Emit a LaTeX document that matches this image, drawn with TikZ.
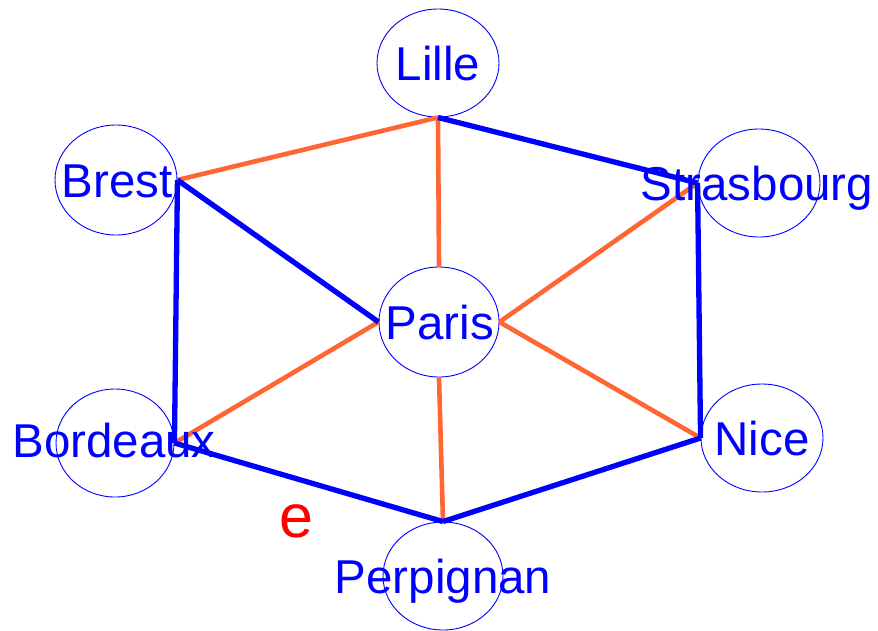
\documentclass[tikz,border=0pt]{standalone}
\usepackage{fontspec}
\setmainfont{Liberation Sans}
\usetikzlibrary{shapes.geometric}
\definecolor{cityblue}{RGB}{0,0,255}
\definecolor{edgeorange}{RGB}{255,102,51}
\definecolor{markred}{RGB}{255,0,0}
\begin{document}
\begin{tikzpicture}[x=1pt,y=-1pt,
  city/.style={ellipse,draw=cityblue,line width=0.9pt,inner sep=0pt,
    minimum width=#1},
  cityname/.style={anchor=base,inner sep=0pt,text=cityblue,
    font=\fontsize{47.5}{50}\selectfont},
  road/.style={draw=cityblue,line width=5.3pt},
  link/.style={draw=edgeorange,line width=4.6pt}]
\useasboundingbox (0,0) rectangle (878,630);

% city circles
\node[city=122pt,minimum height=108pt] (lille)  at (438,63)  {};
\node[city=122pt,minimum height=110pt] (brest)  at (116,180) {};
\node[city=122pt,minimum height=108pt] (stras)  at (759,183) {};
\node[city=120pt,minimum height=110pt] (paris)  at (439,322) {};
\node[city=118pt,minimum height=108pt] (bord)   at (115,443) {};
\node[city=120pt,minimum height=108pt] (perp)   at (443,576) {};
\node[city=122pt,minimum height=108pt] (nice)   at (762,438) {};

% orange links
\draw[link] (brest.east) -- (lille.south);
\draw[link] (lille.south) -- (paris.north);
\draw[link] (paris.east) -- (stras.west);
\draw[link] (paris.west) -- (bord.east);
\draw[link] (paris.south) -- (perp.north);
\draw[link] (paris.east) -- (nice.west);

% blue roads
\draw[road] (lille.south) -- (stras.west);
\draw[road] (brest.east) -- (paris.west);
\draw[road] (brest.east) -- (bord.east);
\draw[road] (stras.west) -- (nice.west);
\draw[road] (bord.east) -- (perp.north);
\draw[road] (perp.north) -- (nice.west);

% city names
\node[cityname] (tlille) at (438,80)  {Lille};
\node[cityname] (tbrest) at (117,197) {Brest};
\node[cityname] (tstras) at (757,200) {Strasbourg};
\node[cityname] (tparis) at (440,339) {Paris};
\node[cityname] (tbord)  at (114,457) {Bordeaux};
\node[cityname] (tperp)  at (443,593) {Perpignan};
\node[cityname] (tnice)  at (762,455) {Nice};

% edge mark
\node[anchor=base,inner sep=0pt,text=markred,
  font=\fontsize{61}{64}\selectfont] (mark) at (296.5,537) {e};
\end{tikzpicture}
\end{document}
